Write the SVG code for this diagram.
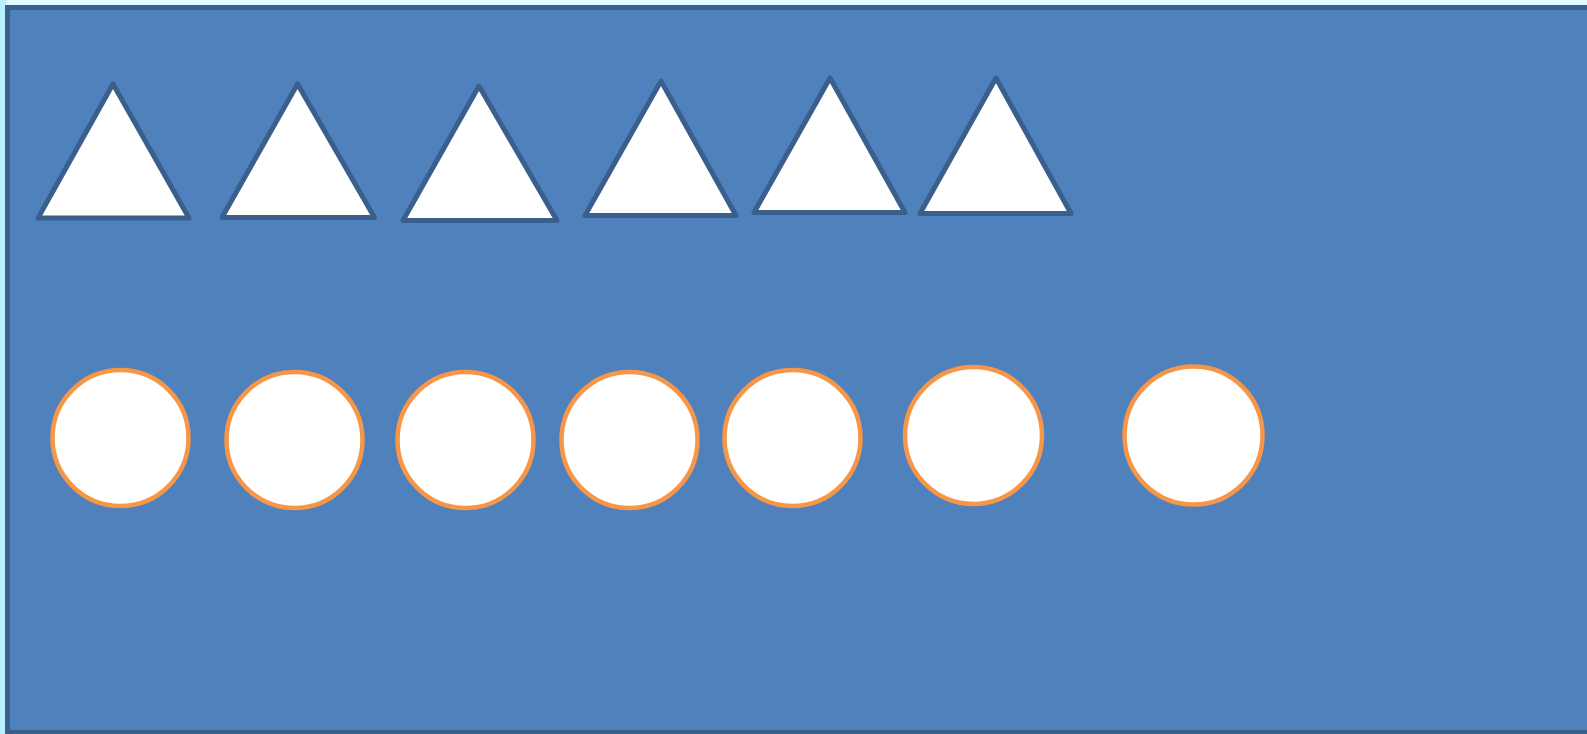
<svg xmlns="http://www.w3.org/2000/svg" width="1587" height="734" viewBox="0 0 1587 734">
<style>
.tri{fill:#ffffff;stroke:#3b5f8c;stroke-width:5;stroke-linejoin:round}
.cir{fill:#ffffff;stroke:#f79646;stroke-width:4.5}
</style>
<rect x="0" y="0" width="1587" height="734" fill="#dff9ff"/>
<rect x="0" y="0" width="6" height="734" fill="#b9f0ff"/>
<rect x="7.5" y="7.5" width="1600" height="725" fill="#4f81bd" stroke="#3b5f8c" stroke-width="5"/>
<g id="triangles">
<g id="t1"><polygon class="tri" points="113,84 38,218 189,218"/></g>
<g id="t2"><polygon class="tri" points="297.5,84 222,217.5 374.5,217.5"/></g>
<g id="t3"><polygon class="tri" points="479,86 403,220.5 557,220.5"/></g>
<g id="t4"><polygon class="tri" points="661,81 585,215.5 736,215.5"/></g>
<g id="t5"><polygon class="tri" points="830,78 754,212.5 905,212.5"/></g>
<g id="t6"><polygon class="tri" points="996,78 920,213.5 1071,213.5"/></g>
</g>
<g id="circles">
<g id="c1"><circle class="cir" cx="120.5" cy="438" r="68"/></g>
<g id="c2"><circle class="cir" cx="294.5" cy="440" r="68"/></g>
<g id="c3"><circle class="cir" cx="465.5" cy="440" r="68"/></g>
<g id="c4"><circle class="cir" cx="629.5" cy="440" r="68"/></g>
<g id="c5"><circle class="cir" cx="792.5" cy="438" r="68"/></g>
<g id="c6"><circle class="cir" cx="973.5" cy="435.5" r="68.5"/></g>
<g id="c7"><circle class="cir" cx="1193.5" cy="435.5" r="69"/></g>
</g>
<g id="connectors"></g>
</svg>
